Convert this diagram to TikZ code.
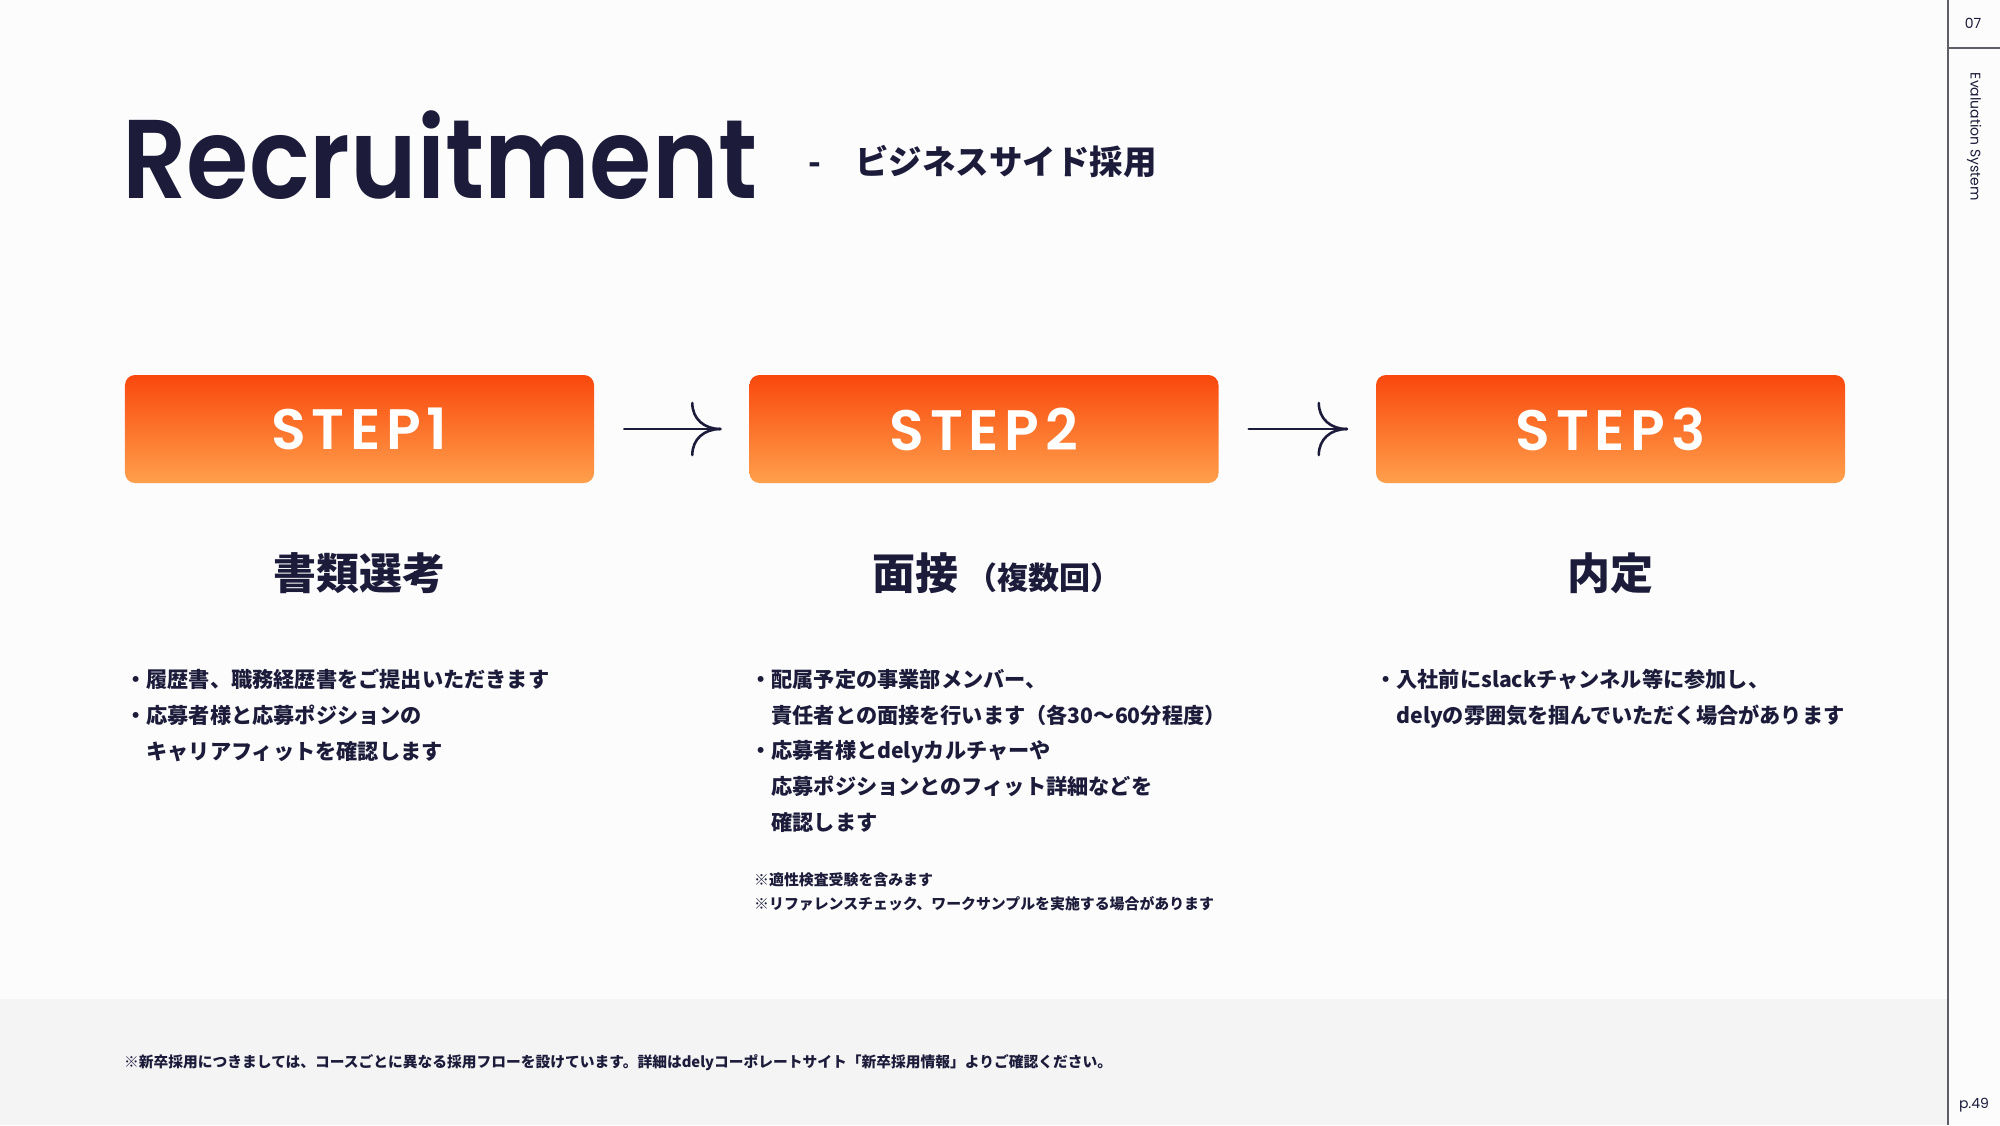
\documentclass[tikz,border=0pt]{standalone}
\usepackage{fontspec}
\setmainfont{Noto Sans CJK JP}
\newfontfamily\latinfont{Poppins}
\newfontfamily\titlefont{Poppins}[BoldFont={Poppins SemiBold}]
\usetikzlibrary{positioning,calc}

\definecolor{navy}{HTML}{1C1B3A}
\definecolor{steptop}{HTML}{F9480D}
\definecolor{stepbot}{HTML}{FFA04C}
\definecolor{bandgray}{HTML}{F4F4F5}
\definecolor{pagebg}{HTML}{FCFCFD}
\definecolor{rulegray}{HTML}{5E5E66}

\tikzset{
  stepbox/.style={rounded corners=10bp, top color=steptop, bottom color=stepbot,
    minimum width=469bp, minimum height=108bp, inner sep=0pt, text=white,
    font=\titlefont\bfseries\fontsize{57bp}{60bp}\selectfont\addfontfeature{LetterSpace=10}},
  flowline/.style={draw=navy, line width=2.6bp, line cap=round},
  heading/.style={inner sep=0pt, text=navy, font=\bfseries\fontsize{43bp}{46bp}\selectfont},
  bullets/.style={anchor=north west, align=left, inner sep=0pt, text=navy,
    font=\bfseries\fontsize{21.2bp}{35.7bp}\selectfont},
  notes/.style={anchor=north west, align=left, inner sep=0pt, text=navy,
    font=\bfseries\fontsize{14.9bp}{24.5bp}\selectfont},
  sidetext/.style={inner sep=0pt, text=navy, font=\latinfont\fontsize{14bp}{16bp}\selectfont},
}

\begin{document}
\begin{tikzpicture}[x=1bp,y=-1bp]
  \fill[pagebg] (0,0) rectangle (2000,1125);
  \useasboundingbox (0,0) rectangle (2000,1125);

  % footer band and side rule
  \fill[bandgray] (0,999) rectangle (1948,1125);
  \draw[rulegray, line width=1.6bp] (1948,0) -- (1948,1125);
  \draw[rulegray, line width=1.6bp] (1948,48) -- (2000,48);
  \node[sidetext] (pageno) at (1973,23) {07};
  \node[sidetext, rotate=-90] (system) at (1974,137) {Evaluation System};
  \node[sidetext] (pagep) at (1974,1105) {p.49};

  % title
  \node[anchor=base west, inner sep=0pt, text=navy,
    font=\titlefont\bfseries\fontsize{112bp}{120bp}\selectfont\addfontfeature{FakeStretch=0.9}]
    (title) at (122,198) {Recruitment};
  \node[anchor=west, inner sep=0pt, text=navy, font=\bfseries\fontsize{33.5bp}{40bp}\selectfont]
    (subtitle) at (808,162) {-\hspace{34bp}ビジネスサイド採用};

  % steps
  \node[stepbox] (s1) at (359.5,429) {STEP1};
  \node[stepbox] (s2) at (984,429) {STEP2};
  \node[stepbox] (s3) at (1610.5,429) {STEP3};

  \draw[flowline] ([xshift=30bp]s1.east) -- ([xshift=-29bp]s2.west) coordinate (tip1);
  \draw[flowline] (tip1) .. controls +(-16,0) and +(0,16) .. +(-28,-26);
  \draw[flowline] (tip1) .. controls +(-16,0) and +(0,-16) .. +(-28,26);
  \draw[flowline] ([xshift=30bp]s2.east) -- ([xshift=-29bp]s3.west) coordinate (tip2);
  \draw[flowline] (tip2) .. controls +(-16,0) and +(0,16) .. +(-28,-26);
  \draw[flowline] (tip2) .. controls +(-16,0) and +(0,-16) .. +(-28,26);

  % headings
  \coordinate (hrow) at (0,573);
  \node[heading] (h1) at (s1 |- hrow) {書類選考};
  \node[heading] (h2) at ([xshift=13bp]s2 |- hrow) {面接\,{\fontsize{31bp}{32bp}\selectfont（複数回）}};
  \node[heading] (h3) at (s3 |- hrow) {内定};

  % details
  \node[bullets] (b1) at (125,669) {・履歴書、職務経歴書をご提出いただきます\\
    ・応募者様と応募ポジションの\\
    \hphantom{・}キャリアフィットを確認します};
  \node[bullets] (b2) at (750,669) {・配属予定の事業部メンバー、\\
    \hphantom{・}責任者との面接を行います（各30～60分程度）\\
    ・応募者様とdelyカルチャーや\\
    \hphantom{・}応募ポジションとのフィット詳細などを\\
    \hphantom{・}確認します};
  \node[notes] (n2) at (754,872) {※適性検査受験を含みます\\
    ※リファレンスチェック、ワークサンプルを実施する場合があります};
  \node[bullets] (b3) at (1375,669) {・入社前にslackチャンネル等に参加し、\\
    \hphantom{・}delyの雰囲気を掴んでいただく場合があります};

  % footnote
  \node[anchor=west, inner sep=0pt, text=navy, font=\bfseries\fontsize{14.75bp}{16bp}\selectfont]
    (foot) at (124,1063) {※新卒採用につきましては、コースごとに異なる採用フローを設けています。詳細はdelyコーポレートサイト「新卒採用情報」よりご確認ください。};
\end{tikzpicture}
\end{document}
